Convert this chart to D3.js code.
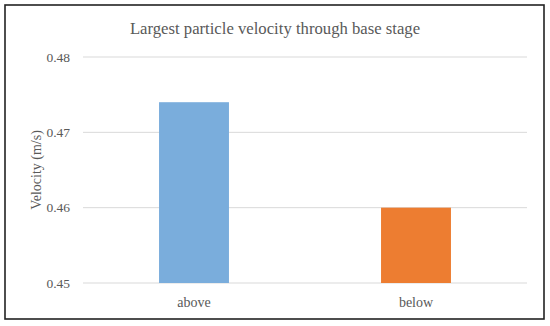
<!DOCTYPE html>
<html lang="en">
<head>
  <meta charset="UTF-8" />
  <title>Largest particle velocity</title>
  <script src="https://d3js.org/d3.v7.min.js"></script>
  <style>
    body { margin: 0; background: #fff; font-family: 'Liberation Serif', 'DejaVu Serif', serif; }
    svg text { fill: #595959; }
  </style>
</head>
<body>
  <svg></svg>
  <script>
    const categories = ["above", "below"];
    const values = [0.474, 0.460];
    const colors = ["#7aaddc", "#ed7d31"];
    const yTicks = [0.45, 0.46, 0.47, 0.48];

    const width = 550, height = 326;
    const margin = { top: 57, right: 23, bottom: 43, left: 83 };

    const svg = d3.select("svg").attr("width", width).attr("height", height);

    // frame
    svg.append("rect")
      .attr("x", 5).attr("y", 5)
      .attr("width", 539).attr("height", 314)
      .attr("fill", "#fff")
      .attr("stroke", "#222").attr("stroke-width", 1.6);

    const x = d3.scaleBand()
      .domain(categories)
      .range([margin.left, width - margin.right])
      .padding(0);

    const y = d3.scaleLinear()
      .domain([0.45, 0.48])
      .range([height - margin.bottom, margin.top]);

    // gridlines
    svg.append("g")
      .selectAll("line")
      .data(yTicks)
      .join("line")
      .attr("x1", margin.left)
      .attr("x2", width - margin.right)
      .attr("y1", d => y(d))
      .attr("y2", d => y(d))
      .attr("stroke", "#d9d9d9")
      .attr("stroke-width", 1);

    // y labels
    svg.append("g")
      .selectAll("text")
      .data(yTicks)
      .join("text")
      .attr("x", margin.left - 13)
      .attr("y", d => y(d))
      .attr("dy", "0.35em")
      .attr("text-anchor", "end")
      .style("font-size", "13.5px")
      .text(d => d3.format(".2f")(d).replace(/0$/, ""));

    const barW = x.bandwidth() * 0.315;

    svg.append("g")
      .selectAll("rect")
      .data(categories)
      .join("rect")
      .attr("x", (d, i) => x(d) + x.bandwidth() / 2 - barW / 2)
      .attr("y", (d, i) => y(values[i]))
      .attr("width", barW)
      .attr("height", (d, i) => y(0.45) - y(values[i]))
      .attr("fill", (d, i) => colors[i]);

    // x labels
    svg.append("g")
      .selectAll("text")
      .data(categories)
      .join("text")
      .attr("x", d => x(d) + x.bandwidth() / 2)
      .attr("y", 302)
      .attr("dy", "0.35em")
      .attr("text-anchor", "middle")
      .style("font-size", "14px")
      .text(d => d);

    // axis title
    svg.append("text")
      .attr("transform", `translate(36,${(y(0.45) + y(0.48)) / 2}) rotate(-90)`)
      .attr("text-anchor", "middle")
      .attr("dy", "0.35em")
      .style("font-size", "14px")
      .text("Velocity (m/s)");

    // title
    svg.append("text")
      .attr("x", 275)
      .attr("y", 28)
      .attr("dy", "0.35em")
      .attr("text-anchor", "middle")
      .style("font-size", "16.7px")
      .text("Largest particle velocity through base stage");
  </script>
</body>
</html>
